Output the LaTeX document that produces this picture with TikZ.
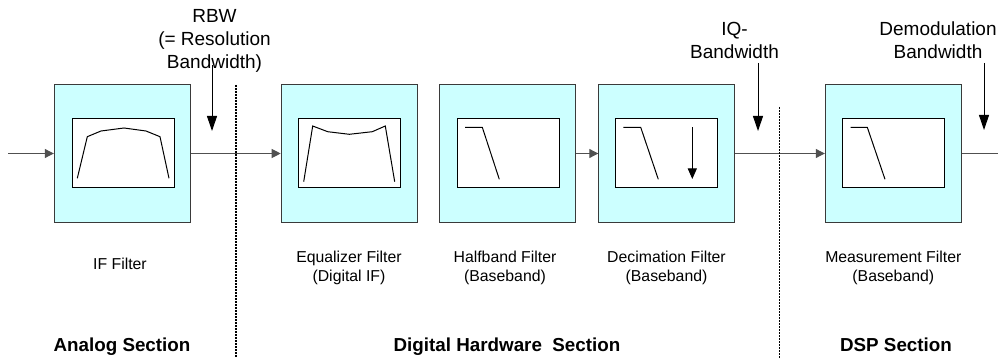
\documentclass[tikz,border=0pt]{standalone}
\usepackage{fontspec}
\setmainfont{Liberation Sans}
\usetikzlibrary{arrows.meta}
\definecolor{boxfill}{HTML}{CCFFFF}
\definecolor{boxline}{HTML}{3A3A3A}
\definecolor{sigline}{HTML}{505050}
\tikzset{
  outerbox/.style={draw=boxline,fill=boxfill,line width=1pt,minimum width=136pt,minimum height=137pt,inner sep=0pt},
  innerbox/.style={draw=black,fill=white,line width=1pt,minimum width=102pt,minimum height=69pt,inner sep=0pt},
  sig/.style={draw=sigline,line width=1pt,-{Triangle[length=9pt,width=9pt]}},
  bwarrow/.style={draw=black,line width=1pt,-{Triangle[length=15pt,width=10pt]}},
  downarrow/.style={draw=black,line width=1pt,-{Triangle[length=10.5pt,width=9pt]}},
  curve/.style={draw=black,line width=1pt,line join=miter},
  sectionline/.style={draw=black,line width=1.4pt,dash pattern=on 2pt off 1pt},
  toplabel/.style={align=center,font=\fontsize{19}{23}\selectfont,inner sep=0pt,anchor=base},
  filterlabel/.style={align=center,font=\fontsize{15.8}{19.5}\selectfont,inner sep=0pt,anchor=base},
  sectionlabel/.style={font=\fontsize{18.8}{22}\selectfont\bfseries,inner sep=0pt,anchor=base}
}
\begin{document}
\begin{tikzpicture}[x=1pt,y=-1pt]
\useasboundingbox (0,0) rectangle (998,358);
% filter blocks
\node[outerbox] (iff) at (122.3,153.5) {}; \node[innerbox] (iffin) at (123.7,153.5) {};
\node[outerbox] (eq) at (349.2,153.5) {}; \node[innerbox] (eqin) at (349.3,153.5) {};
\node[outerbox] (hb) at (507.5,153.5) {}; \node[innerbox] (hbin) at (508,153.5) {};
\node[outerbox] (dec) at (666.8,153.5) {}; \node[innerbox] (decin) at (666.7,153.5) {};
\node[outerbox] (meas) at (893.3,153.5) {}; \node[innerbox] (measin) at (893.2,153.5) {};
% filter curves
\draw[curve] (77.3,178.3)--(87.3,136.7)--(101,131)--(124,128)--(146,131)--(160,136.7)--(169,178.3);
\draw[curve] (303.7,181.7)--(312.7,126)--(327.7,131.7)--(349.3,134.3)--(372.3,131.7)--(385.3,126)--(394.7,181.7);
\draw[curve] (465,127.3)--(482.3,127.3)--(499.3,179.3);
\draw[curve] (623.3,127.3)--(640.7,127.3)--(658.3,179.3);
\draw[curve] (850.7,127.3)--(867.3,127.3)--(885,179.3);
\coordinate (dtop) at (692.3,127.3); \coordinate (dbot) at (692.3,179);
\draw[downarrow] (dtop)--(dbot);
% signal path
\coordinate (in) at (8,153.5); \coordinate (out) at (998,153.5);
\draw[sig] (in)--(iff.west);
\draw[sig] (iff.east)--(eq.west);
\draw[sig] (hb.east)--(dec.west);
\draw[sig] (dec.east)--(meas.west);
\draw[draw=sigline,line width=1pt] (meas.east)--(out);
% section borders
\coordinate (s1t) at (236,85); \coordinate (s1b) at (236,358);
\coordinate (s2t) at (779.3,107); \coordinate (s2b) at (779.3,358);
\draw[sectionline] (s1t)--(s1b); \draw[sectionline] (s2t)--(s2b);
% bandwidth marks
\node[toplabel] (rbw) at (214.5,69) {RBW\\(= Resolution\\Bandwidth)};
\node[toplabel] (iqbw) at (734.5,59) {IQ-\\Bandwidth};
\node[toplabel] (dembw) at (938,59) {Demodulation\\Bandwidth};
\coordinate (rbwa) at (212,65); \coordinate (rbwb) at (212,131);
\coordinate (iqa) at (758,63); \coordinate (iqb) at (758,131);
\coordinate (dema) at (984,63); \coordinate (demb) at (984,130);
\draw[bwarrow] (rbwa)--(rbwb); \draw[bwarrow] (iqa)--(iqb); \draw[bwarrow] (dema)--(demb);
% filter names
\node[filterlabel] (iffl) at (120,269.3) {IF Filter};
\node[filterlabel] (eql) at (349,281.5) {Equalizer Filter\\(Digital IF)};
\node[filterlabel] (hbl) at (505,281.5) {Halfband Filter\\(Baseband)};
\node[filterlabel] (decl) at (666.5,281.5) {Decimation Filter\\(Baseband)};
\node[filterlabel] (measl) at (893.3,281.5) {Measurement Filter\\(Baseband)};
% section names
\node[sectionlabel] (sa) at (122,351.7) {Analog Section};
\node[sectionlabel] (sd) at (507,351.7) {Digital Hardware\ \ Section};
\node[sectionlabel] (sp) at (896,351.7) {DSP Section};
\end{tikzpicture}
\end{document}
